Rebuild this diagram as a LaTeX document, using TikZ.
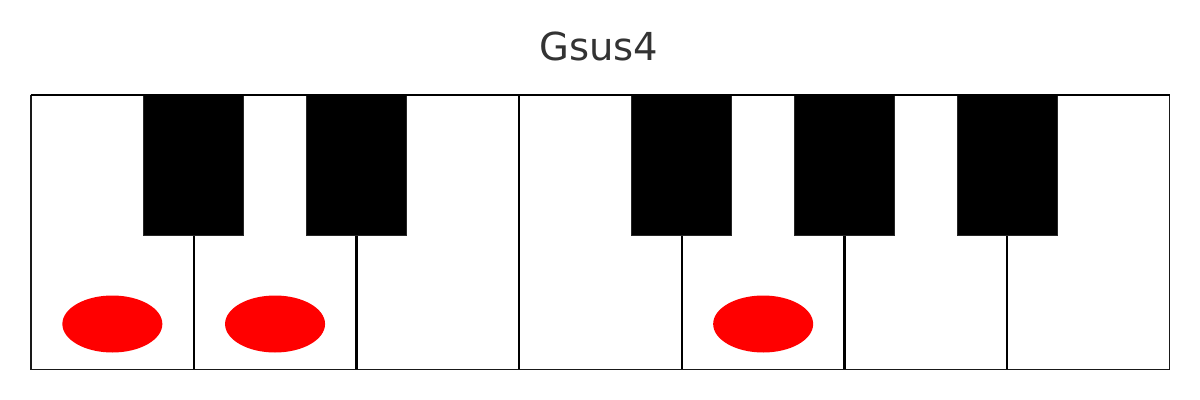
\documentclass[tikz,border=0pt]{standalone}
\usepackage{fontspec}
\setmainfont{DejaVu Sans}
\definecolor{titlegray}{HTML}{333333}

\begin{document}
\begin{tikzpicture}[x=0.025cm,y=-0.025cm]
        \useasboundingbox (0,0) rectangle (1200,400);

        % Title
        \node[text=titlegray,font=\fontsize{27.4}{32}\selectfont] (title) at (599,46) {Gsus4};

        % Dividers between white keys
        \foreach \i in {1,...,6}
          \draw[line width=1.6pt] ({31+\i*162.7},95) -- ({31+\i*162.7},370);

        % Black keys
        \foreach \i in {1,2,4,5,6}
          \filldraw[fill=black,draw=black!85,line width=0.6pt] ({31+\i*162.7-50},95) rectangle ({31+\i*162.7+50},235);

        % Pressed keys
        \foreach \i in {0,1,4}
          \fill[red] ({31+(\i+0.5)*162.7},324) ellipse (50 and 28.5);

        % Frame
        \draw[line width=0.8pt,black!90] (31,95) -- (31,369.5) -- (1169.5,369.5) -- (1169.5,95);
        \draw[line width=1.6pt] (30.5,95) -- (1170,95);
      \end{tikzpicture}
\end{document}
